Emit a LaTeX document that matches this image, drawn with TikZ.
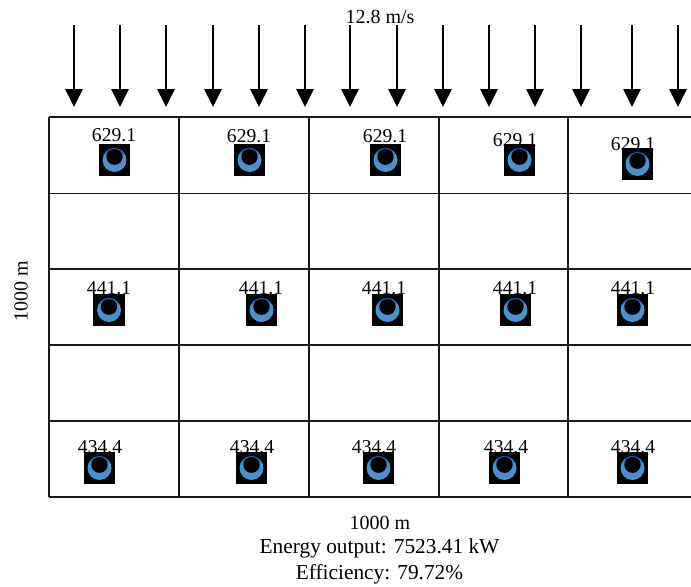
\documentclass[tikz,border=0pt]{standalone}
\usepackage{fontspec}
\setmainfont{Liberation Serif}
\usetikzlibrary{arrows.meta}
\definecolor{crescent}{HTML}{4F8ECB}
\definecolor{rim}{HTML}{25B0DC}
\definecolor{toprim}{HTML}{2A55E0}
\tikzset{
  gridline/.style={line width=1.3pt,black!90},
  wind/.style={line width=1.2pt,-{Triangle[length=13.5pt,width=13pt]}},
  lbl/.style={inner sep=0pt,font=\fontsize{14.7pt}{16pt}\selectfont},
  captext/.style={inner sep=0pt,font=\fontsize{15pt}{17pt}\selectfont},
  bigcap/.style={inner sep=0pt,font=\fontsize{16pt}{18pt}\selectfont},
  tile/.style={fill=black,draw=none,minimum width=23.3pt,minimum height=24pt,inner sep=0pt},
}
% name, label, label x, label y, tile centre x, tile centre y
\newcommand{\turbinecell}[6]{%
  \node[lbl] (l#1) at (#3,#4) {#2};
  \node[tile] (t#1) at (#5,#6) {};
  \fill[crescent] (t#1.center) circle (11.5);
  \draw[rim,line width=.6pt] (t#1.center) circle (11.5);
  \fill[black] ([yshift=2.5pt]t#1.center) circle (8.2);
  \draw[toprim,line width=.6pt] (t#1.center) ++(-30:11.4) arc (-30:-150:11.4);
}
\begin{document}
\begin{tikzpicture}[x=.75pt,y=-.75pt]
\useasboundingbox (0,0) rectangle (691,586);
% grid
\coordinate (a0) at (49,117); \coordinate (b0) at (691,117);
\coordinate (a1) at (49,193.5); \coordinate (b1) at (691,193.5);
\coordinate (a2) at (49,269); \coordinate (b2) at (691,269);
\coordinate (a3) at (49,345); \coordinate (b3) at (691,345);
\coordinate (a4) at (49,421); \coordinate (b4) at (691,421);
\coordinate (a5) at (49,497); \coordinate (b5) at (691,497);
\foreach \i in {0,...,5} \draw[gridline] (a\i) -- (b\i);
\coordinate (c0) at (49,117);  \coordinate (d0) at (49,497);
\coordinate (c1) at (179.2,117); \coordinate (d1) at (179.2,497);
\coordinate (c2) at (309,117); \coordinate (d2) at (309,497);
\coordinate (c3) at (439,117); \coordinate (d3) at (439,497);
\coordinate (c4) at (568,117); \coordinate (d4) at (568,497);
\foreach \i in {0,...,4} \draw[gridline] (c\i) -- (d\i);
% wind arrows
\foreach \n/\x in {1/74,2/120,3/166,4/213,5/259,6/305,7/350,8/397,9/443,10/489,11/535,12/581,13/632,14/678}{
  \coordinate (wt\n) at (\x,25);
  \coordinate (wb\n) at (\x,107);
  \draw[wind] (wt\n) -- (wb\n);
}
% row 1
\turbinecell{a}{629.1}{114}{135}{114.5}{160}
\turbinecell{b}{629.1}{249}{136}{249.5}{160}
\turbinecell{c}{629.1}{385}{136}{385.5}{160}
\turbinecell{d}{629.1}{515}{140}{519.5}{160}
\turbinecell{e}{629.1}{633}{144}{637.5}{164}
% row 3
\turbinecell{f}{441.1}{109}{288}{109}{310}
\turbinecell{g}{441.1}{261}{288}{261.5}{310}
\turbinecell{h}{441.1}{384}{288}{387.5}{310}
\turbinecell{i}{441.1}{515}{288}{515.5}{310}
\turbinecell{j}{441.1}{633}{288}{632.5}{310}
% row 5
\turbinecell{k}{434.4}{100}{447}{99.5}{468}
\turbinecell{m}{434.4}{252}{447}{251.5}{468}
\turbinecell{n}{434.4}{374}{447}{378.5}{468}
\turbinecell{o}{434.4}{506}{447}{504.5}{468}
\turbinecell{p}{434.4}{633}{447}{632.5}{468}
% captions
\node[captext] (speed) at (380,17) {12.8 m/s};
\node[captext,rotate=90] (side) at (21,291) {1000 m};
\node[captext] (bottom) at (380,523) {1000 m};
\node[bigcap] (energy) at (379.5,548) {Energy output: 7523.41 kW};
\node[bigcap] (eff) at (379.5,574) {Efficiency: 79.72\%};
\end{tikzpicture}
\end{document}
